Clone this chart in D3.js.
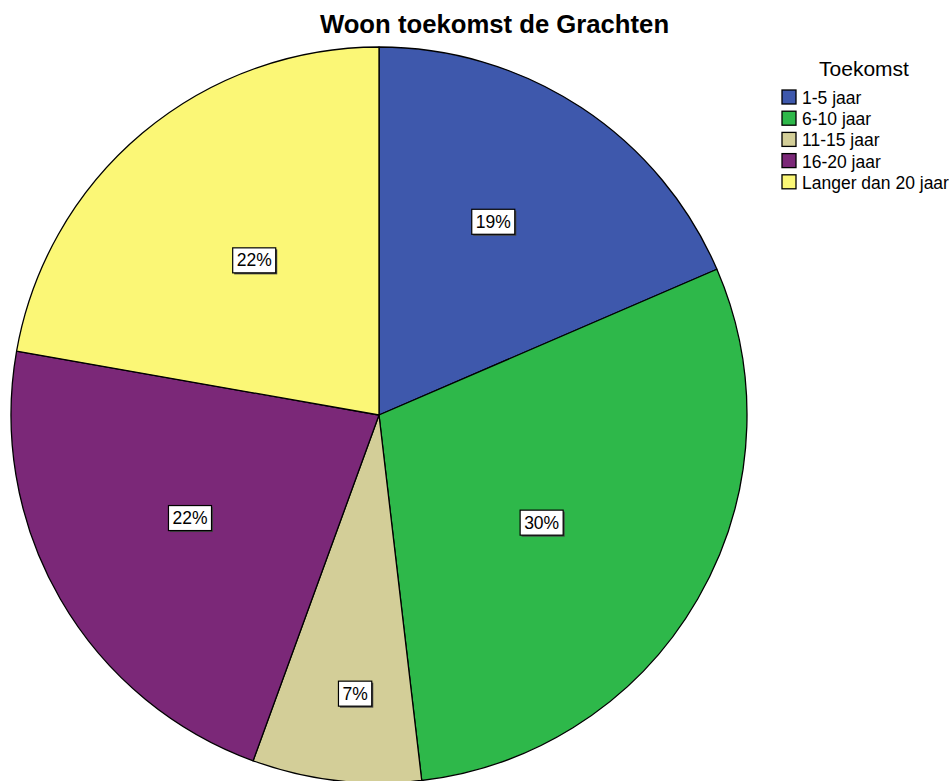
<!DOCTYPE html>
<html><head><meta charset="utf-8">
<script src="https://cdn.jsdelivr.net/npm/d3@7"></script>
<style>body{margin:0;background:#fff}svg{display:block;font-family:"Liberation Sans",Arial,sans-serif}</style>
</head><body>
<svg id="chart" width="949" height="781"></svg>
<script>
const categories = ["1-5 jaar","6-10 jaar","11-15 jaar","16-20 jaar","Langer dan 20 jaar"];
const counts = [5, 8, 2, 6, 6];
const colors = ["#3e58ac","#2eb84a","#d3ce98","#7b2878","#fbf776"];
// label placement: [angle in degrees from 12 o'clock, fraction of radius]
const labelPlacement = [[30.6,0.61],[123.5,0.53],[184.9,0.76],[241.4,0.585],[321.1,0.54]];
const title = "Woon toekomst de Grachten";
const legendTitle = "Toekomst";

const svg = d3.select("#chart");
const cx = 379, cy = 415, R = 368;
const total = d3.sum(counts);
const pie = d3.pie().sort(null).value(d => d)(counts);
const arc = d3.arc().innerRadius(0).outerRadius(R);
const g = svg.append("g").attr("transform", `translate(${cx},${cy})`);
g.selectAll("path").data(pie).join("path")
  .attr("d", arc).attr("fill", (d,i) => colors[i])
  .attr("stroke", "#000").attr("stroke-width", 1.3).attr("stroke-linejoin","round");

const fmt = d => Math.round(d.value / total * 100) + "%";
const lab = g.selectAll("g.lab").data(pie).join("g").attr("class","lab")
  .attr("transform", (d,i) => {
    const [deg, f] = labelPlacement[i];
    const a = deg * Math.PI / 180, r = R * f;
    return `translate(${r*Math.sin(a)},${-r*Math.cos(a)})`;
  });
const txt = lab.append("text").attr("text-anchor","middle").attr("y",6).attr("font-size",17.5)
  .attr("fill","#000").text(fmt);
lab.each(function(){
  const gg = d3.select(this);
  const bb = gg.select("text").node().getBBox();
  const w = bb.width + 8, h = 25;
  gg.insert("rect","text").attr("x",-w/2+1.5).attr("y",-h/2+1.5).attr("width",w).attr("height",h).attr("fill","#444");
  gg.insert("rect","text").attr("x",-w/2).attr("y",-h/2).attr("width",w).attr("height",h)
    .attr("fill","#fff").attr("stroke","#000").attr("stroke-width",1.2);
});

svg.append("text").attr("x",494.5).attr("y",33).attr("text-anchor","middle")
  .attr("font-size",25.7).attr("font-weight","bold").text(title);

const leg = svg.append("g");
leg.append("text").attr("x",864).attr("y",76).attr("text-anchor","middle")
  .attr("font-size",21).text(legendTitle);
const items = leg.selectAll("g.it").data(categories).join("g").attr("class","it")
  .attr("transform",(d,i)=>`translate(782,${90 + i*21.2})`);
items.append("rect").attr("width",14).attr("height",14)
  .attr("fill",(d,i)=>colors[i]).attr("stroke","#000").attr("stroke-width",1.3);
items.append("text").attr("x",20).attr("y",14).attr("font-size",17.5).text(d=>d);
</script>
</body></html>
